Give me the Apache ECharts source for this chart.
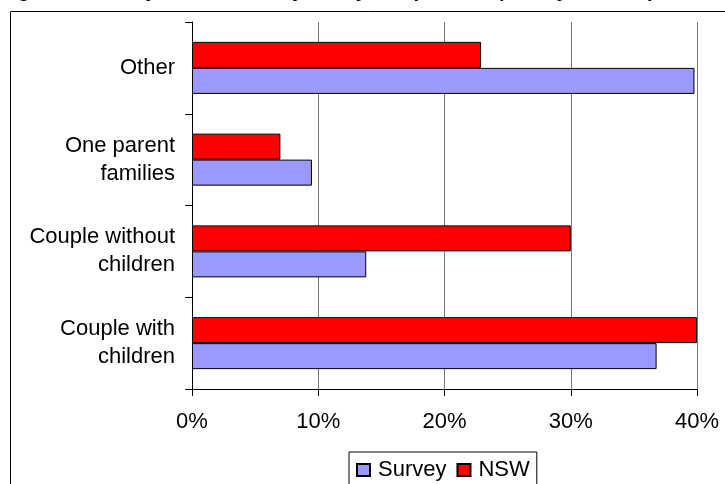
<!DOCTYPE html>
<html>
<head>
<meta charset="utf-8">
<script src="https://cdn.jsdelivr.net/npm/echarts@6/dist/echarts.min.js"></script>
<style>
html,body{margin:0;padding:0;background:#fff;}
#chart{width:725px;height:484px;}
</style>
</head>
<body>
<div id="chart"></div>
<script>
var titleText = 'Figure 6: Survey households by family composition (survey vs NSW)';
var categories = ['Couple with\nchildren', 'Couple without\nchildren', 'One parent\nfamilies', 'Other'];
var surveyValues = [36.8, 13.8, 9.5, 39.8];
var nswValues = [40.0, 30.0, 7.0, 22.9];
var xTicks = [0, 10, 20, 30, 40];

var FONT = 'Liberation Sans, Arial, sans-serif';
var chart = echarts.init(document.getElementById('chart'), null, {renderer: 'canvas'});
chart.setOption({
  animation: false,
  backgroundColor: '#fff',
  textStyle: {fontFamily: FONT},
  graphic: [
    {type: 'rect', z: -1, shape: {x: 10.5, y: 11.5, width: 800, height: 600},
     style: {fill: 'none', stroke: '#000', lineWidth: 1}},
    {type: 'text', x: 0, y: -19, style: {text: titleText, font: 'bold 20px ' + FONT,
     fill: '#000', textVerticalAlign: 'top', textAlign: 'left'}}
  ],
  grid: {left: 192, top: 22, right: 28, bottom: 95, containLabel: false},
  legend: {
    data: ['Survey', 'NSW'],
    left: 349, top: 452,
    padding: [7, 7, 7, 7],
    borderColor: '#000', borderWidth: 1, backgroundColor: '#fff',
    itemWidth: 13, itemHeight: 12, itemGap: 10,
    icon: 'rect',
    textStyle: {fontSize: 22, color: '#000', fontFamily: FONT, padding: [0, 0, 0, 3]}
  },
  xAxis: {
    type: 'value', min: xTicks[0], max: xTicks[xTicks.length - 1], interval: 10,
    axisLine: {show: true, lineStyle: {color: '#000', width: 1}},
    axisTick: {show: true, length: 7, lineStyle: {color: '#000'}},
    axisLabel: {formatter: '{value}%', fontSize: 22, color: '#000', margin: 22},
    splitLine: {show: true, lineStyle: {color: '#777', width: 1}}
  },
  yAxis: {
    type: 'category', data: categories,
    axisLine: {show: true, lineStyle: {color: '#000', width: 1}},
    axisTick: {show: true, length: 7, lineStyle: {color: '#000'}},
    axisLabel: {fontSize: 22, color: '#000', margin: 17, lineHeight: 28, align: 'right'},
    splitLine: {show: false}
  },
  series: [
    {name: 'NSW', type: 'bar', data: nswValues, barWidth: 26, barGap: '0%',
     itemStyle: {color: '#FF0000', borderColor: '#000', borderWidth: 1}},
    {name: 'Survey', type: 'bar', data: surveyValues, barWidth: 26, barGap: '0%',
     itemStyle: {color: '#9999FF', borderColor: '#000', borderWidth: 1}}
  ]
});
</script>
</body>
</html>
